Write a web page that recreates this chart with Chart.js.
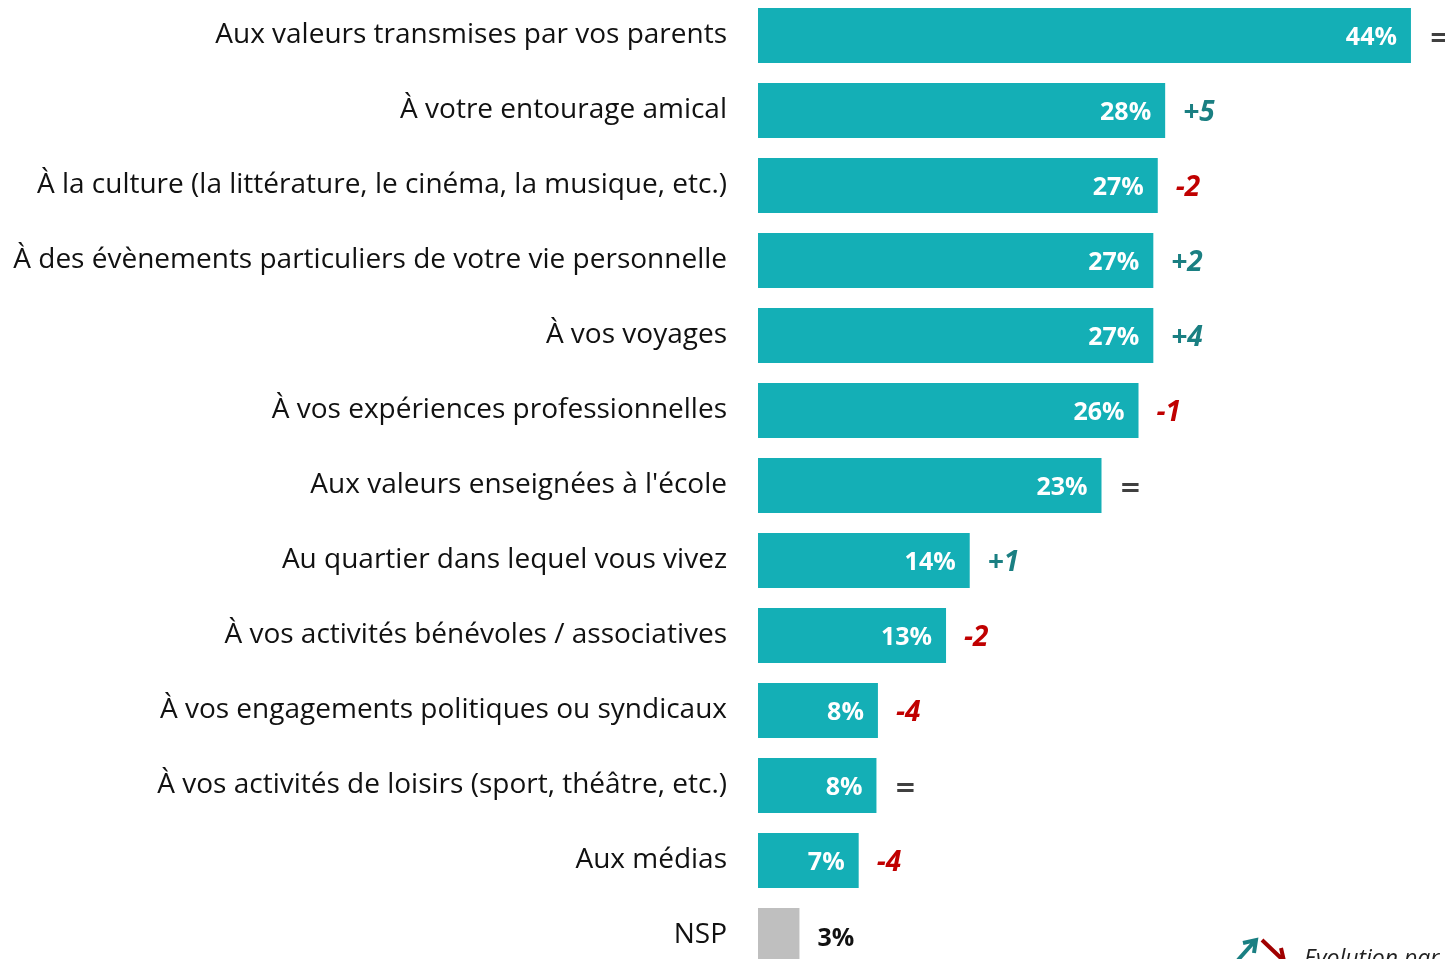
<!DOCTYPE html>
<html>
<head>
<meta charset="utf-8">
<script src="https://cdn.jsdelivr.net/npm/chart.js@4/dist/chart.umd.min.js"></script>
<style>
  html, body { margin: 0; padding: 0; background: #fff; overflow: hidden; }
  #wrap { position: absolute; left: 0; top: -2px; width: 1445px; height: 975px; }
</style>
</head>
<body>
<div id="wrap"><canvas id="chart"></canvas></div>
<script>
const categories = [
  "Aux valeurs transmises par vos parents",
  "À votre entourage amical",
  "À la culture (la littérature, le cinéma, la musique, etc.)",
  "À des évènements particuliers de votre vie personnelle",
  "À vos voyages",
  "À vos expériences professionnelles",
  "Aux valeurs enseignées à l'école",
  "Au quartier dans lequel vous vivez",
  "À vos activités bénévoles / associatives",
  "À vos engagements politiques ou syndicaux",
  "À vos activités de loisirs (sport, théâtre, etc.)",
  "Aux médias",
  "NSP"
];
const values = [44.1, 27.5, 27.0, 26.7, 26.7, 25.7, 23.2, 14.3, 12.7, 8.1, 8.0, 6.8, 2.8];
const valueLabels = ["44%", "28%", "27%", "27%", "27%", "26%", "23%", "14%", "13%", "8%", "8%", "7%", "3%"];
const changes = ["=", "+5", "-2", "+2", "+4", "-1", "=", "+1", "-2", "-4", "=", "-4", ""];

const TEAL = '#14AFB6';
const GREY = '#BFBFBF';
const LABEL_FONT = '"Open Sans", "Noto Sans", sans-serif';

function changeColor(c) {
  if (c.startsWith('+')) return '#1A7F82';
  if (c.startsWith('-')) return '#C00000';
  return '#404040';
}

const labelsPlugin = {
  id: 'barLabels',
  afterDatasetsDraw(chart) {
    const ctx = chart.ctx;
    const meta = chart.getDatasetMeta(0);
    ctx.save();
    meta.data.forEach((bar, i) => {
      const isNsp = categories[i] === 'NSP';
      ctx.textBaseline = 'middle';
      ctx.font = 'bold 25px ' + LABEL_FONT;
      if (isNsp) {
        ctx.fillStyle = '#111';
        ctx.textAlign = 'left';
        ctx.fillText(valueLabels[i], bar.x + 18, bar.y + 3);
      } else {
        ctx.fillStyle = '#fff';
        ctx.textAlign = 'right';
        ctx.fillText(valueLabels[i], bar.x - 14, bar.y + 2);
        const c = changes[i];
        if (c) {
          ctx.fillStyle = changeColor(c);
          ctx.textAlign = 'left';
          if (c === '=') {
            ctx.font = 'italic bold 26px "DejaVu Sans", sans-serif';
            ctx.fillText(c, bar.x + 18, bar.y + 4);
          } else {
            ctx.font = 'italic bold 28px ' + LABEL_FONT;
            ctx.fillText(c, bar.x + 18, bar.y + 3);
          }
        }
      }
    });

    // legend in the bottom right corner
    const y0 = 962;
    ctx.lineWidth = 4;
    ctx.lineCap = 'butt';
    ctx.strokeStyle = '#1A7F82';
    ctx.beginPath();
    ctx.moveTo(1238, y0); ctx.lineTo(1254, y0 - 18);
    ctx.moveTo(1243, y0 - 17); ctx.lineTo(1256, y0 - 20); ctx.lineTo(1254, y0 - 7);
    ctx.stroke();
    ctx.strokeStyle = '#A00000';
    ctx.beginPath();
    ctx.moveTo(1262, y0 - 20); ctx.lineTo(1283, y0);
    ctx.moveTo(1281, y0 - 12); ctx.lineTo(1284, y0 + 1); ctx.lineTo(1272, y0 + 2);
    ctx.stroke();
    ctx.font = 'italic 23px ' + LABEL_FONT;
    ctx.fillStyle = '#222';
    ctx.textAlign = 'left';
    ctx.textBaseline = 'alphabetic';
    ctx.fillText('Evolution par rapport', 1304, y0 + 6);
    ctx.restore();
  }
};

new Chart(document.getElementById('chart'), {
  type: 'bar',
  data: {
    labels: categories,
    datasets: [{
      data: values,
      backgroundColor: categories.map(c => c === 'NSP' ? GREY : TEAL),
      borderWidth: 0,
      barPercentage: 1,
      categoryPercentage: 55 / 75
    }]
  },
  options: {
    indexAxis: 'y',
    responsive: true,
    maintainAspectRatio: false,
    animation: false,
    layout: { padding: 0 },
    plugins: {
      legend: { display: false },
      tooltip: { enabled: false }
    },
    scales: {
      x: {
        display: false,
        min: 0,
        max: 46.4
      },
      y: {
        grid: { display: false, drawTicks: false },
        border: { display: false },
        afterFit(scale) {
          scale.width = 758;
          scale.paddingTop = 0;
          scale.paddingBottom = 0;
        },
        ticks: {
          color: '#111',
          padding: 31,
          font: { family: LABEL_FONT, size: 28 }
        }
      }
    }
  },
  plugins: [labelsPlugin]
});
</script>
</body>
</html>
